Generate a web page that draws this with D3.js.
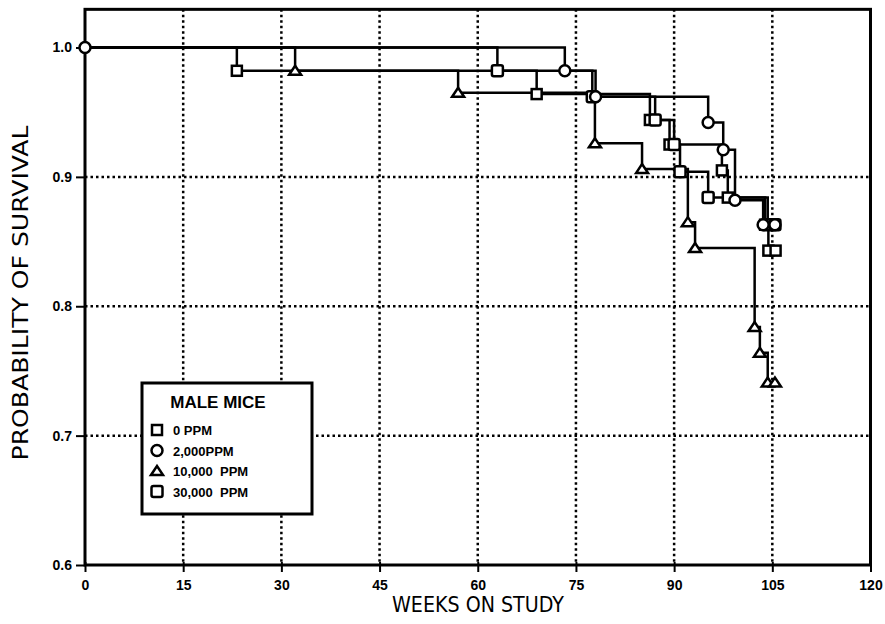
<!DOCTYPE html>
<meta charset="utf-8">
<style>
body { margin: 0; background: #fff; }
.grid line { stroke: #000; stroke-width: 2.5px; stroke-dasharray: 2.5,3; }
.curve { fill: none; stroke: #000; stroke-width: 2.5px; }
.mark { fill: #fff; stroke: #000; stroke-width: 2.5px; }
.axis text { font: bold 14px "Liberation Sans", sans-serif; fill: #000; }
.axis line { stroke: #000; stroke-width: 2px; }
.title { font: 21px "DejaVu Sans", sans-serif; fill: #000; }
.legend text { font: bold 13px "Liberation Sans", sans-serif; fill: #000; white-space: pre; }
</style>
<body>
<svg width="885" height="624"></svg>
<script src="https://d3js.org/d3.v7.min.js"></script>
<script>
// tick values
var xTicks = [0, 15, 30, 45, 60, 75, 90, 105, 120];
var yTicks = [0.6, 0.7, 0.8, 0.9, 1.0];
var xGrid = [15, 30, 45, 60, 75, 90, 105];
var yGrid = [0.7, 0.8, 0.9];

// survival steps (week of death, survival after it)
var ctrlWeeks = [0, 23.2, 69.0, 86.3, 89.3, 97.3, 98.2, 103.9, 104.4, 105.5];
var ctrlSurv  = [1.0, 0.982, 0.964, 0.944, 0.925, 0.905, 0.884, 0.863, 0.843, 0.843];

var lowWeeks = [0, 73.3, 78.0, 95.2, 97.5, 99.3, 103.6, 105.4];
var lowSurv  = [1.0, 0.982, 0.962, 0.942, 0.921, 0.882, 0.863, 0.863];

var midWeeks = [0, 32.1, 57.0, 77.9, 85.1, 92.1, 93.2, 102.3, 103.1, 104.3, 105.4];
var midSurv  = [1.0, 0.982, 0.965, 0.926, 0.906, 0.865, 0.845, 0.784, 0.764, 0.741, 0.741];

var highWeeks = [0, 63.0, 77.5, 87.1, 90.0, 90.9, 95.2, 104.3, 105.4];
var highSurv  = [1.0, 0.982, 0.962, 0.944, 0.925, 0.904, 0.884, 0.863, 0.863];

var legendLabels = ["0 PPM", "2,000PPM", "10,000  PPM", "30,000  PPM"];
var shapes = ["square", "circle", "triangle", "rsquare"];

var groups = [
  {weeks: ctrlWeeks, surv: ctrlSurv, shape: "square"},
  {weeks: highWeeks, surv: highSurv, shape: "rsquare"},
  {weeks: midWeeks, surv: midSurv, shape: "triangle"},
  {weeks: lowWeeks, surv: lowSurv, shape: "circle"}
];

var svg = d3.select("svg");

var x = d3.scaleLinear().domain([0, 120]).range([85, 870.5]);
var y = d3.scaleLinear().domain([0.6, 1.0]).range([565, 47.5]);
var yTop = 1.0295;

// grid
var grid = svg.append("g").attr("class", "grid");
grid.selectAll(".vx").data(xGrid).enter().append("line")
    .attr("x1", d => x(d)).attr("x2", d => x(d))
    .attr("y1", y(yTop)).attr("y2", y(0.6));
grid.selectAll(".hy").data(yGrid).enter().append("line")
    .attr("x1", x(0)).attr("x2", x(120))
    .attr("y1", d => y(d)).attr("y2", d => y(d));

// axes
var xAxis = svg.append("g").attr("class", "axis")
    .attr("transform", "translate(0," + y(0.6) + ")")
    .call(d3.axisBottom(x).tickValues(xTicks).tickSize(7).tickPadding(8).tickFormat(d3.format("d")));
xAxis.select(".domain").remove();
xAxis.selectAll(".tick line").attr("y1", -3);

var yAxis = svg.append("g").attr("class", "axis")
    .attr("transform", "translate(" + x(0) + ",0)")
    .call(d3.axisLeft(y).tickValues(yTicks).tickSize(9).tickPadding(4).tickFormat(d3.format(".1f")));
yAxis.select(".domain").remove();

// frame
svg.append("rect")
    .attr("x", x(0)).attr("y", y(yTop))
    .attr("width", x(120) - x(0)).attr("height", y(0.6) - y(yTop))
    .attr("fill", "none").attr("stroke", "#000").attr("stroke-width", 3);

// curves
var line = d3.line()
    .x(d => x(d[0])).y(d => y(d[1]))
    .curve(d3.curveStepAfter);

function drawMark(sel, shape, cx, cy) {
  if (shape === "circle") {
    sel.append("circle").attr("class", "mark").attr("cx", cx).attr("cy", cy).attr("r", 5.5);
  } else if (shape === "triangle") {
    sel.append("path").attr("class", "mark")
      .attr("d", "M" + (cx - 6) + "," + (cy + 4) + "L" + cx + "," + (cy - 5) + "L" + (cx + 6) + "," + (cy + 4) + "Z");
  } else if (shape === "rsquare") {
    sel.append("rect").attr("class", "mark").attr("x", cx - 5.5).attr("y", cy - 5.5)
      .attr("width", 11).attr("height", 11).attr("rx", 2);
  } else {
    sel.append("rect").attr("class", "mark").attr("x", cx - 5).attr("y", cy - 5)
      .attr("width", 10).attr("height", 10);
  }
}

groups.forEach(function(g) {
  var pts = g.weeks.map((w, i) => [w, g.surv[i]]);
  svg.append("path").datum(pts).attr("class", "curve").attr("d", line);
});

var marks = svg.append("g");
groups.forEach(function(g) {
  g.weeks.forEach(function(w, i) {
    if (i === 0) return;
    drawMark(marks, g.shape, x(w), y(g.surv[i]));
  });
});
// common starting point
drawMark(marks, "circle", x(lowWeeks[0]), y(lowSurv[0]));

// axis titles
svg.append("text").attr("class", "title")
    .attr("x", 478).attr("y", 612)
    .attr("text-anchor", "middle")
    .attr("textLength", 172).attr("lengthAdjust", "spacingAndGlyphs")
    .text("WEEKS ON STUDY");

svg.append("text").attr("class", "title")
    .attr("transform", "translate(28,293) rotate(-90)")
    .attr("text-anchor", "middle")
    .attr("textLength", 335).attr("lengthAdjust", "spacingAndGlyphs")
    .text("PROBABILITY OF SURVIVAL");

// legend
var legend = svg.append("g").attr("class", "legend");
legend.append("rect")
    .attr("x", 142).attr("y", 383).attr("width", 170).attr("height", 131)
    .attr("fill", "#fff").attr("stroke", "#000").attr("stroke-width", 3);
legend.append("text")
    .attr("x", 218).attr("y", 408).attr("text-anchor", "middle")
    .style("font-size", "17px")
    .text("MALE MICE");
legendLabels.forEach(function(lab, i) {
  var cy = 430 + i * 20.5;
  drawMark(legend, shapes[i], 157, cy);
  legend.append("text").attr("x", 173).attr("y", cy + 5).text(lab);
});
</script>
